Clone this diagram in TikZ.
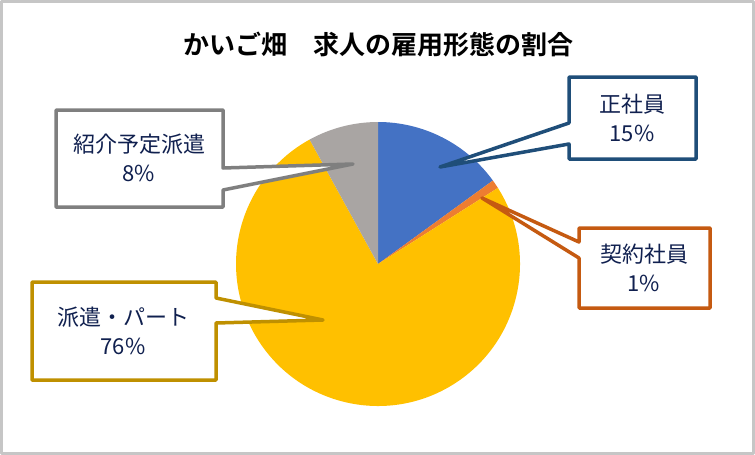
\documentclass[tikz,border=0pt]{standalone}
\usepackage{fontspec}
\setmainfont{Noto Sans CJK JP}
\newfontfamily\cjkb{Noto Sans CJK JP}[BoldFont={* Bold}]
\begin{document}
\begin{tikzpicture}[x=1pt,y=-1pt,line join=round,
  lbl/.style={text=navy,font=\fontsize{22}{29}\selectfont,align=center},
  callout/.style={fill=white,line width=3.5pt}]
\definecolor{navy}{HTML}{10204F}
\definecolor{cb}{HTML}{4472C4}\definecolor{cor}{HTML}{ED7D31}
\definecolor{cy}{HTML}{FFC000}\definecolor{cg}{HTML}{A9A5A3}
\definecolor{bb}{HTML}{1F4E79}\definecolor{bo}{HTML}{C55A11}
\definecolor{bg}{HTML}{7F7F7F}\definecolor{by}{HTML}{BF9000}
\useasboundingbox (0,0) rectangle (755,455);
\draw[line width=3pt,gray!45] (1.5,1.5) rectangle (753.5,453.5);
\node[font=\cjkb\bfseries\fontsize{26}{30}\selectfont,text=black] (title) at (378,45) {かいご畑\quad 求人の雇用形態の割合};
\coordinate (c) at (378,264);
\def\R{142}
\fill[cb] (c) -- ++(0,-\R) arc[start angle=-90,end angle=-36,radius=\R] -- cycle;
\fill[cor] (c) -- ++(-36:\R) arc[start angle=-36,end angle=-32.4,radius=\R] -- cycle;
\fill[cy] (c) -- ++(-32.4:\R) arc[start angle=-32.4,end angle=-118.8+360,radius=\R] -- cycle;
\fill[cg] (c) -- ++(241.2:\R) arc[start angle=241.2,end angle=270,radius=\R] -- cycle;
% callouts
\draw[callout,draw=bb] (569,77)--(696,77)--(696,159)--(569,159)--(569,144)--(440,167)--(569,123)--cycle;
\node[lbl] (a) at (632,118) {正社員\\15\%};
\draw[callout,draw=bo] (579,228)--(710,228)--(710,308)--(579,308)--(579,258)--(482,198)--(579,242)--cycle;
\node[lbl] (b) at (644,268) {契約社員\\1\%};
\draw[callout,draw=bg] (56,110)--(223,110)--(223,168)--(353,164)--(223,190)--(223,207)--(56,207)--cycle;
\node[lbl] (d) at (139,158) {紹介予定派遣\\8\%};
\draw[callout,draw=by] (32,282)--(216,282)--(216,298)--(323,320)--(216,323)--(216,380)--(32,380)--cycle;
\node[lbl] (e) at (123,331) {派遣・パート\\76\%};
\end{tikzpicture}
\end{document}
